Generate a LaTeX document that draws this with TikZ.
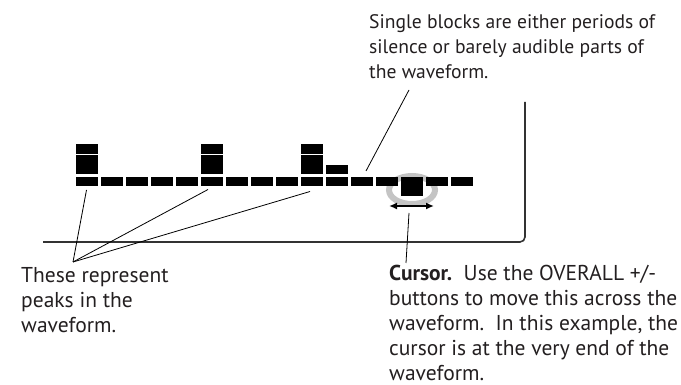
\documentclass[tikz,border=0pt]{standalone}
\usepackage{fontspec}
\setmainfont{PT Sans}
\usepackage{xcolor}
\usepackage{tikz}
\usetikzlibrary{arrows.meta,positioning}
\definecolor{ink}{HTML}{231F20}
\definecolor{framegray}{HTML}{333333}
\definecolor{ringgray}{HTML}{C4C4C4}

\begin{document}
\begin{tikzpicture}[x=1pt,y=-1pt,font=\fontsize{21.5}{25}\selectfont,
  blk/.style={fill=black,inner sep=0pt,minimum width=22pt,anchor=north west},
  note/.style={text=ink,align=left,inner sep=0pt,anchor=base west},
  lead/.style={draw=black,line width=0.8pt},
  frm/.style={draw=framegray,line width=1.6pt,rounded corners=5pt}]
  \useasboundingbox (0,0) rectangle (681,385);
  % frame of the display
  \coordinate (fl) at (43,242);
  \coordinate (fc) at (525,242);
  \coordinate (ft) at (525,102);
  \draw[frm] (fl) -- (fc) -- (ft);
  % cursor ring, behind the blocks
  \draw[ringgray,line width=6pt] (412,190) ellipse (23 and 14);
  % bottom row of blocks
  \foreach \i in {0,...,12,14,15}
    \node[blk,minimum height=9pt] (b\i) at (76+25*\i,177) {};
  \node[blk,minimum height=19pt] (cur) at (401,177) {};
  % peaks
  \foreach \i in {0,5,9} {
    \node[blk,minimum height=19pt] (m\i) at (76+25*\i,155) {};
    \node[blk,minimum height=10pt] (t\i) at (76+25*\i,144) {};
  }
  \node[blk,minimum height=9pt] (m10) at (326,165) {};
  % cursor movement
  \coordinate (al) at (389,206);
  \coordinate (ar) at (434,206);
  \draw[{Latex[length=8pt,width=7pt]}-{Latex[length=8pt,width=7pt]},line width=2pt] (al) -- (ar);
  % texts (base = last line)
  \node[note,font=\fontsize{19.6}{25}\selectfont] (single) at (369,79)
    {Single blocks are either periods of\\silence or barely audible parts of\\the waveform.};
  \node[note] (peaks) at (21,332) {These represent\\peaks in the\\waveform.};
  \node[note] (cursor) at (389,380)
    {\textbf{Cursor.}\ \ Use the OVERALL +/-\\buttons to move this across the\\waveform.\ \ In this example, the\\cursor is at the very end of the\\waveform.};
  % leader lines
  \coordinate (pk) at (73,262);
  \coordinate (pk0) at (86.5,190);
  \coordinate (pk5) at (208,189.5);
  \coordinate (pk9) at (310,191.5);
  \draw[lead] (pk) -- (pk0);
  \draw[lead] (pk) -- (pk5);
  \draw[lead] (pk) -- (pk9);
  \coordinate (sgtop) at (409,90);
  \coordinate (sgend) at (366,171);
  \draw[lead] (sgtop) -- (sgend);
  \coordinate (cutop) at (409,213);
  \coordinate (cuend) at (406,263);
  \draw[lead] (cutop) -- (cuend);
\end{tikzpicture}
\end{document}
